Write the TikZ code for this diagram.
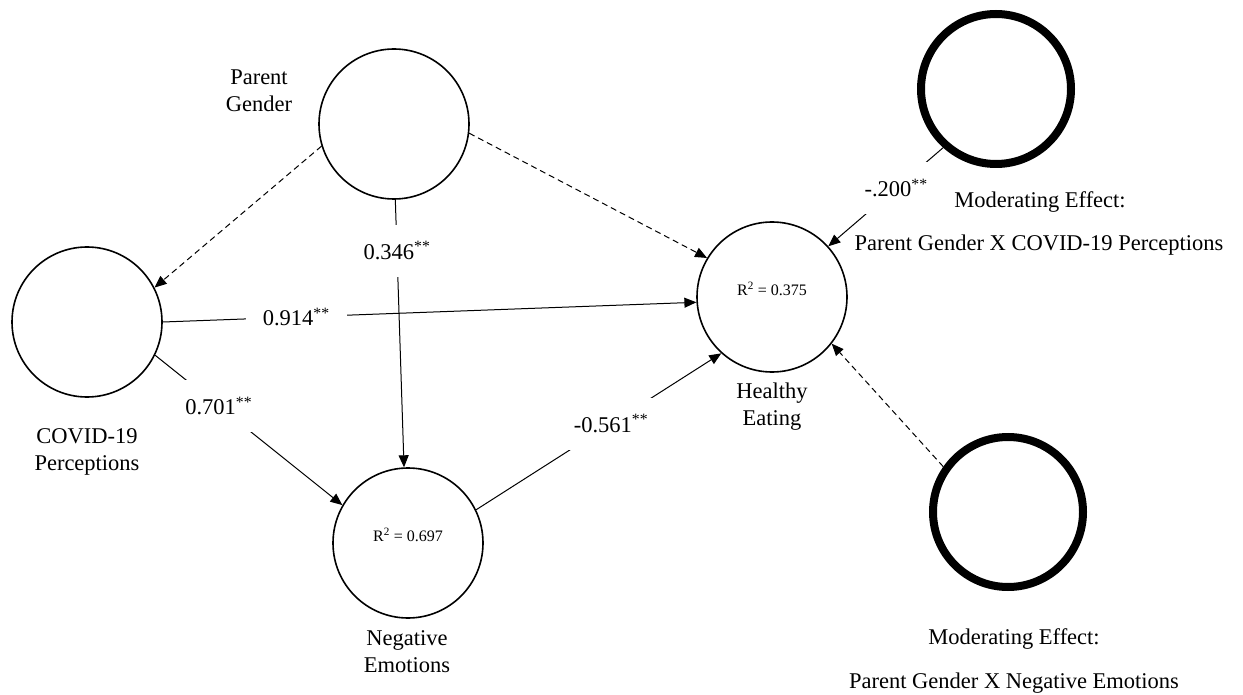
\documentclass[tikz,border=0pt]{standalone}
\usepackage{fontspec}
\setmainfont{Liberation Serif}
\usetikzlibrary{arrows.meta}
\begin{document}
\begin{tikzpicture}[x=1pt,y=-1pt,
  lat/.style={circle,draw,line width=1.6pt,minimum size=150pt,inner sep=0pt},
  modc/.style={circle,draw,line width=8pt,minimum size=150pt,inner sep=0pt},
  txt/.style={font=\fontsize{22.5}{27}\selectfont,align=center,inner sep=0pt},
  rsq/.style={font=\fontsize{16}{19}\selectfont,inner sep=0pt},
  coef/.style={font=\fontsize{22.5}{27}\selectfont,fill=white,inner sep=17pt},
  arr/.style={line width=1pt,-{Triangle[length=12pt,width=10pt]}},
  darr/.style={arr,dash pattern=on 6pt off 4pt}]
\useasboundingbox (0,0) rectangle (1243,695);
% constructs
\node[lat] (pg) at (394,124) {};
\node[lat] (cov) at (87,322) {};
\node[lat] (ne) at (408,543) {};
\node[lat] (he) at (772,297) {};
\node[modc] (m1) at (996,89) {};
\node[modc] (m2) at (1008,512) {};
% connectors
\draw[darr] (pg.197) -- (cov.27);
\draw[darr] (pg.353) -- (he.149);
\draw[darr] (m2.145) -- (he.322);
\draw[arr] (pg.271) -- node[coef,pos=0.19] {0.346\textsuperscript{**}} (ne.93);
\draw[arr] (cov.0) -- node[coef,pos=0.25] {0.914\textsuperscript{**}} (he.184);
\draw[arr] (cov.334) -- node[coef,pos=0.34] {0.701\textsuperscript{**}} (ne.150);
\draw[arr] (ne.26) -- node[coef,pos=0.55] {-0.561\textsuperscript{**}} (he.228);
\draw[arr] (m1.228) -- node[coef,pos=0.41] {-.200\textsuperscript{**}} (he.42);
% texts
\node[rsq] (her2) at (772,289) {R\textsuperscript{2} = 0.375};
\node[rsq] (ner2) at (408,535) {R\textsuperscript{2} = 0.697};
\node[txt] (pgl) at (259,91) {Parent\\Gender};
\node[txt] (covl) at (87,452) {COVID-19\\Perceptions};
\node[txt] (nel) at (407,652) {Negative\\Emotions};
\node[txt] (hel) at (772,407) {Healthy\\Eating};
\node[txt] (m1a) at (1040,202) {Moderating Effect:};
\node[txt] (m1b) at (1039,245) {Parent Gender X COVID-19 Perceptions};
\node[txt] (m2a) at (1014,639) {Moderating Effect:};
\node[txt] (m2b) at (1014,683) {Parent Gender X Negative Emotions};
\end{tikzpicture}
\end{document}
